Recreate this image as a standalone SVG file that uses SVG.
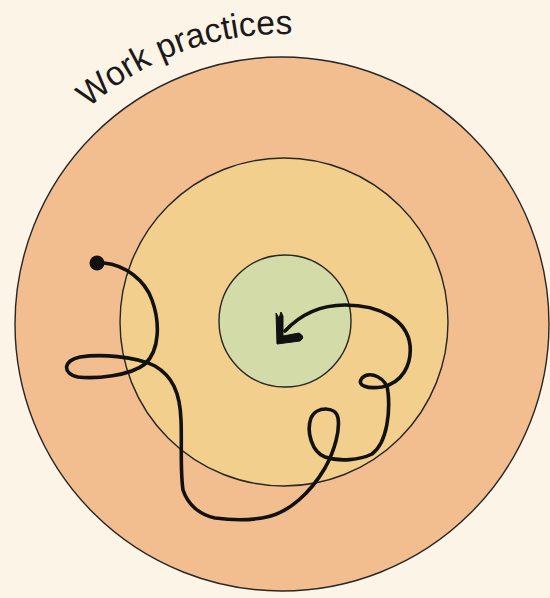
<svg xmlns="http://www.w3.org/2000/svg" width="550" height="598" viewBox="0 0 550 598">
<style>
.ring{stroke:#262626;stroke-width:1.4}
.path{fill:none;stroke:#111;stroke-width:3.6;stroke-linecap:round;stroke-linejoin:round}
.lbl{font-family:"Liberation Sans",Arial,sans-serif;font-size:34px;fill:#1a1a1a}
</style>
<defs>
<path id="arc" d="M88.6,108.2 A289,289 0 0 1 307.2,35.1"/>
</defs>
<rect width="550" height="598" fill="#fcf4e6"/>
<g id="outer"><circle class="ring" cx="282" cy="324" r="267" fill="#f2be8f"/></g>
<g id="middle"><circle class="ring" cx="284" cy="322" r="164" fill="#f2cf8c"/></g>
<g id="inner"><circle class="ring" cx="285" cy="321" r="66" fill="#d3dba8"/></g>
<g id="label"><text class="lbl"><textPath href="#arc" textLength="222" lengthAdjust="spacingAndGlyphs">Work  practices</textPath></text></g>
<g id="connectors">
<circle cx="97" cy="263" r="7.5" fill="#111"/>
<path class="path" d="M104,263 C125,265 145,280 152,300 C160,322 160,350 145,364 C130,376 95,379 78,377 C62,374 63,360 80,357 C100,354 135,356 155,366 C172,376 180,392 181,420 C182,440 180,470 183,490 C188,505 200,515 215,518 C230,520 250,520 262,518 C290,514 312,490 325,468 C335,450 340,430 338,418 C336,406 316,406 311,418 C306,432 312,452 325,457 C340,462 360,460 372,454 C388,442 390,410 388,392 C387,378 370,370 362,378 C356,386 368,389 382,387 C402,383 412,365 410,345 C407,320 380,305 345,305 C320,305 300,315 285,331"/>
<path d="M276,313 L279,318 L281,312 L283,316 L283,336 L299,333 Q306,337 300,341 L277,344 Z" fill="#111" stroke="#111" stroke-width="1" stroke-linejoin="round"/>
</g>
</svg>
